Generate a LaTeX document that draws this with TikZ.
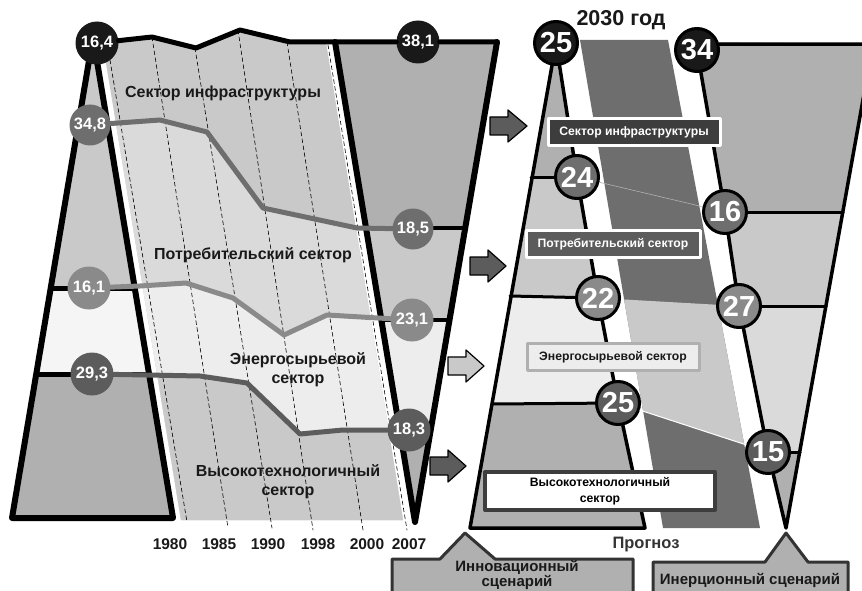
\documentclass[tikz,border=0pt]{standalone}
\usepackage{fontspec}
\setmainfont{Liberation Sans}
\definecolor{ududud}{rgb}{0.1,0.1,0.1}
\definecolor{tttttt}{rgb}{0.2,0.2,0.2}
\definecolor{qtqtqt}{rgb}{0.24,0.24,0.24}
\definecolor{uququq}{rgb}{0.36,0.36,0.36}
\definecolor{wvwvwv}{rgb}{0.43,0.43,0.43}
\definecolor{sqsqsq}{rgb}{0.54,0.54,0.54}
\definecolor{aaaaaa}{rgb}{0.69,0.69,0.69}
\definecolor{cccccc}{rgb}{0.79,0.79,0.79}
\definecolor{dadada}{rgb}{0.855,0.855,0.855}
\definecolor{eeeeee}{rgb}{0.93,0.93,0.93}
\definecolor{fafafa}{rgb}{0.96,0.96,0.96}
\begin{document}
\begin{tikzpicture}[line cap=round,line join=round,x=1pt,y=-1pt,
  edge/.style={line width=6pt},
  trend/.style={line width=5pt},
  yrline/.style={line width=0.6pt,dash pattern=on 4pt off 3pt},
  hist/.style={circle,inner sep=0pt,minimum size=43pt,text=white,font=\fontsize{16.5}{16.5}\selectfont\bfseries},
  prog/.style={circle,draw=black,line width=3pt,inner sep=0pt,minimum size=43pt,text=white,font=\fontsize{29}{29}\selectfont\bfseries},
  yr/.style={text=ududud,font=\fontsize{15.5}{15.5}\selectfont\bfseries},
  sec/.style={text=ududud,align=center,font=\fontsize{16}{19}\selectfont\bfseries},
  tag/.style={minimum width=172pt,minimum height=27pt,inner sep=0pt,line width=3pt,align=center,font=\fontsize{12.2}{16}\selectfont\bfseries},
  barr/.style={draw=black,line width=1.2pt},
  scen/.style={fill=aaaaaa,draw=tttttt,line width=3pt}]
\useasboundingbox (0,0) rectangle (862,591);
\clip (0,0) rectangle (862,591);
% 1980 trapezoid
\begin{scope}
\clip (93,37) -- (12,518) -- (173,518) -- cycle;
\fill[cccccc] (0,0) rectangle (200,288);
\fill[fafafa] (0,288) rectangle (200,374);
\fill[aaaaaa] (0,374) rectangle (200,530);
\end{scope}
% chart between
\begin{scope}
\clip (103,45) -- (152,37) -- (196,48) -- (240,30) -- (290,42) -- (326,42) -- (403,520) -- (181,520) -- cycle;
\fill[cccccc] (100,20) rectangle (420,530);
\fill[dadada] (100,123) -- (160,120) -- (207,132) -- (263,208) -- (357,228) -- (420,228) -- (420,530) -- (100,530) -- cycle;
\fill[eeeeee] (100,287) -- (186,283) -- (233,298) -- (284,335) -- (327,315) -- (420,320) -- (420,530) -- (100,530) -- cycle;
\fill[cccccc] (100,375) -- (200,376) -- (247,383) -- (300,434) -- (343,430) -- (420,430) -- (420,530) -- (100,530) -- cycle;
\end{scope}
% 2007 trapezoid
\begin{scope}
\clip (335,42) -- (497,42) -- (415,522) -- cycle;
\fill[aaaaaa] (330,30) rectangle (500,228);
\fill[cccccc] (330,228) rectangle (500,320);
\fill[eeeeee] (330,320) rectangle (500,430);
\fill[aaaaaa] (330,430) rectangle (500,530);
\end{scope}
% years
\draw[yrline] (110,60) -- (187,522);
\draw[yrline] (152,37) -- (228,528);
\draw[yrline] (195,48) -- (272,528);
\draw[yrline] (238,30) -- (313,530);
\draw[yrline] (287,42) -- (363,530);
\draw[yrline] (328,45) -- (407,530);
\node[yr] (y1980) at (170,544) {1980};
\node[yr] (y1985) at (219,544) {1985};
\node[yr] (y1990) at (268,544) {1990};
\node[yr] (y1998) at (318,544) {1998};
\node[yr] (y2000) at (367,544) {2000};
\node[yr] (y2007) at (409,544) {2007};
\draw[edge] (12,518) -- (93,37) -- (173,518) -- cycle;
\draw[line width=5pt] (51,288) -- (135,288);
\draw[line width=5pt] (36,374) -- (149,374);
\draw[edge] (335,42) -- (415,522) -- (497,42);
\draw[line width=4pt] (366,228) -- (465,228);
\draw[line width=4pt] (381,320) -- (450,320);
\draw[line width=4pt] (400,430) -- (431,430);
% forecast 2030
\begin{scope}
\clip (554,45) -- (577,177) -- (598,298) -- (618,403) -- (645,528) -- (470,528) -- cycle;
\fill[aaaaaa] (460,30) rectangle (660,177);
\fill[cccccc] (460,177) rectangle (660,296);
\fill[eeeeee] (460,296) rectangle (660,404);
\fill[aaaaaa] (460,404) rectangle (660,530);
\end{scope}
\fill[wvwvwv] (580,40) -- (668,40) -- (760,528) -- (663,528) -- cycle;
\begin{scope}
\clip (580,40) -- (668,40) -- (760,528) -- (663,528) -- cycle;
\fill[cccccc] (598,298) -- (739,306) -- (768,452) -- (618,403) -- cycle;
\end{scope}
\begin{scope}
\clip (695,42) -- (725,212) -- (739,306) -- (768,452) -- (786,528) -- (873,44) -- cycle;
\fill[aaaaaa] (680,30) rectangle (880,212);
\fill[cccccc] (680,212) rectangle (880,306);
\fill[dadada] (680,306) rectangle (880,452);
\fill[aaaaaa] (680,452) rectangle (880,530);
\end{scope}
% arrows
\draw[barr,fill=uququq] (490,117) -- (508,117) -- (508,110) -- (527,126) -- (508,142) -- (508,135) -- (490,135) -- cycle;
\draw[barr,fill=uququq] (470,257) -- (488,257) -- (488,250) -- (506,266) -- (488,282) -- (488,275) -- (470,275) -- cycle;
\draw[barr,fill=cccccc] (448,357) -- (466,357) -- (466,350) -- (484,366) -- (466,382) -- (466,375) -- (448,375) -- cycle;
\draw[barr,fill=uququq] (430,457) -- (448,457) -- (448,450) -- (466,466) -- (448,482) -- (448,475) -- (430,475) -- cycle;
% circles
\node[hist,fill=ududud] (c164) at (97,43) {16,4};
\node[hist,fill=wvwvwv,minimum size=41pt] (c348) at (90,125) {34,8};
\node[hist,fill=sqsqsq] (c161) at (89,288) {16,1};
\node[hist,fill=uququq] (c293) at (92,374) {29,3};
\node[hist,fill=ududud] (c381) at (418,42) {38,1};
\node[hist,fill=wvwvwv,minimum size=41pt] (c185) at (413,229) {18,5};
\node[hist,fill=sqsqsq] (c231) at (412,320) {23,1};
\node[hist,fill=uququq] (c183) at (409,430) {18,3};
\node[prog,fill=ududud] (c25a) at (556,43) {25};
\node[prog,fill=ududud] (c34) at (697,50) {34};
\node[prog,fill=wvwvwv] (c24) at (577,177) {24};
\node[prog,fill=wvwvwv] (c16) at (725,212) {16};
\node[prog,fill=sqsqsq] (c22) at (598,298) {22};
\node[prog,fill=sqsqsq] (c27) at (739,306) {27};
\node[prog,fill=uququq] (c25b) at (618,403) {25};
\node[prog,fill=uququq] (c15) at (768,452) {15};
% lines
\draw[line width=5pt] (c164) -- (152,37) -- (196,48) -- (240,30) -- (290,42) -- (c381) -- (497,42);
\draw[trend,wvwvwv] (c348) -- (160,120) -- (207,132) -- (263,208) -- (357,228) -- (c185);
\draw[trend,sqsqsq] (c161) -- (140,286) -- (186,283) -- (233,298) -- (284,335) -- (327,315) -- (c231);
\draw[trend,uququq] (c293) -- (200,376) -- (247,383) -- (300,434) -- (343,430) -- (c183);
\draw[line width=3.5pt] (c25a) -- (470,528) -- (645,528) -- (c25b) -- (c22) -- (c24) -- (c25a);
\draw[line width=3pt] (531,177) -- (c24);
\draw[line width=3pt] (510,296) -- (c22);
\draw[line width=3pt] (492,404) -- (c25b);
\draw[line width=3.5pt] (c34.15) -- (873,44) -- (786,528) -- (c15) -- (c27) -- (c16) -- (c34);
\draw[line width=3pt] (c16) -- (843,212);
\draw[line width=3pt] (c27) -- (826,306);
\draw[line width=3pt] (c15) -- (800,452);
\draw[line width=0.6pt,aaaaaa] (c24) -- (c16);
\draw[line width=1pt,white] (c25b) -- (c15);
% labels
\node[sec] (linfra) at (223,93) {Сектор инфраструктуры};
\node[sec] (lcons) at (253,255) {Потребительский сектор};
\node[sec] (lener) at (298,370) {Энергосырьевой\\сектор};
\node[sec] (lhigh) at (288,482) {Высокотехнологичный\\сектор};
\node[text=ududud,font=\fontsize{21.5}{21.5}\selectfont\bfseries] (lyear) at (621,20) {2030 год};
\node[tag,fill=qtqtqt,draw=white,text=white] (tinfra) at (634,132) {Сектор инфраструктуры};
\node[tag,fill=uququq,draw=white,text=white,minimum width=174pt] (tcons) at (613,244) {Потребительский сектор};
\node[tag,fill=eeeeee,draw=aaaaaa,text=ududud] (tener) at (613,357) {Энергосырьевой сектор};
\node[tag,fill=white,draw=qtqtqt,line width=4pt,text=black,minimum width=230pt,minimum height=38pt] (thigh) at (600,491) {Высокотехнологичный\\сектор};
\node[text=tttttt,font=\fontsize{16.5}{16.5}\selectfont\bfseries] (lprog) at (646,545) {Прогноз};
% scenarios
\draw[scen] (392,600) -- (392,559) -- (440,559) -- (465,533) -- (495,559) -- (633,559) -- (633,600);
\node[text=ududud,align=center,font=\fontsize{15}{15}\selectfont\bfseries] (sinno) at (517,575) {Инновационный\\сценарий};
\draw[scen] (653,600) -- (653,562) -- (765,562) -- (786,533) -- (808,562) -- (848,562) -- (848,600);
\node[text=ududud,font=\fontsize{15}{15}\selectfont\bfseries] (siner) at (750,580) {Инерционный сценарий};
\end{tikzpicture}
\end{document}
